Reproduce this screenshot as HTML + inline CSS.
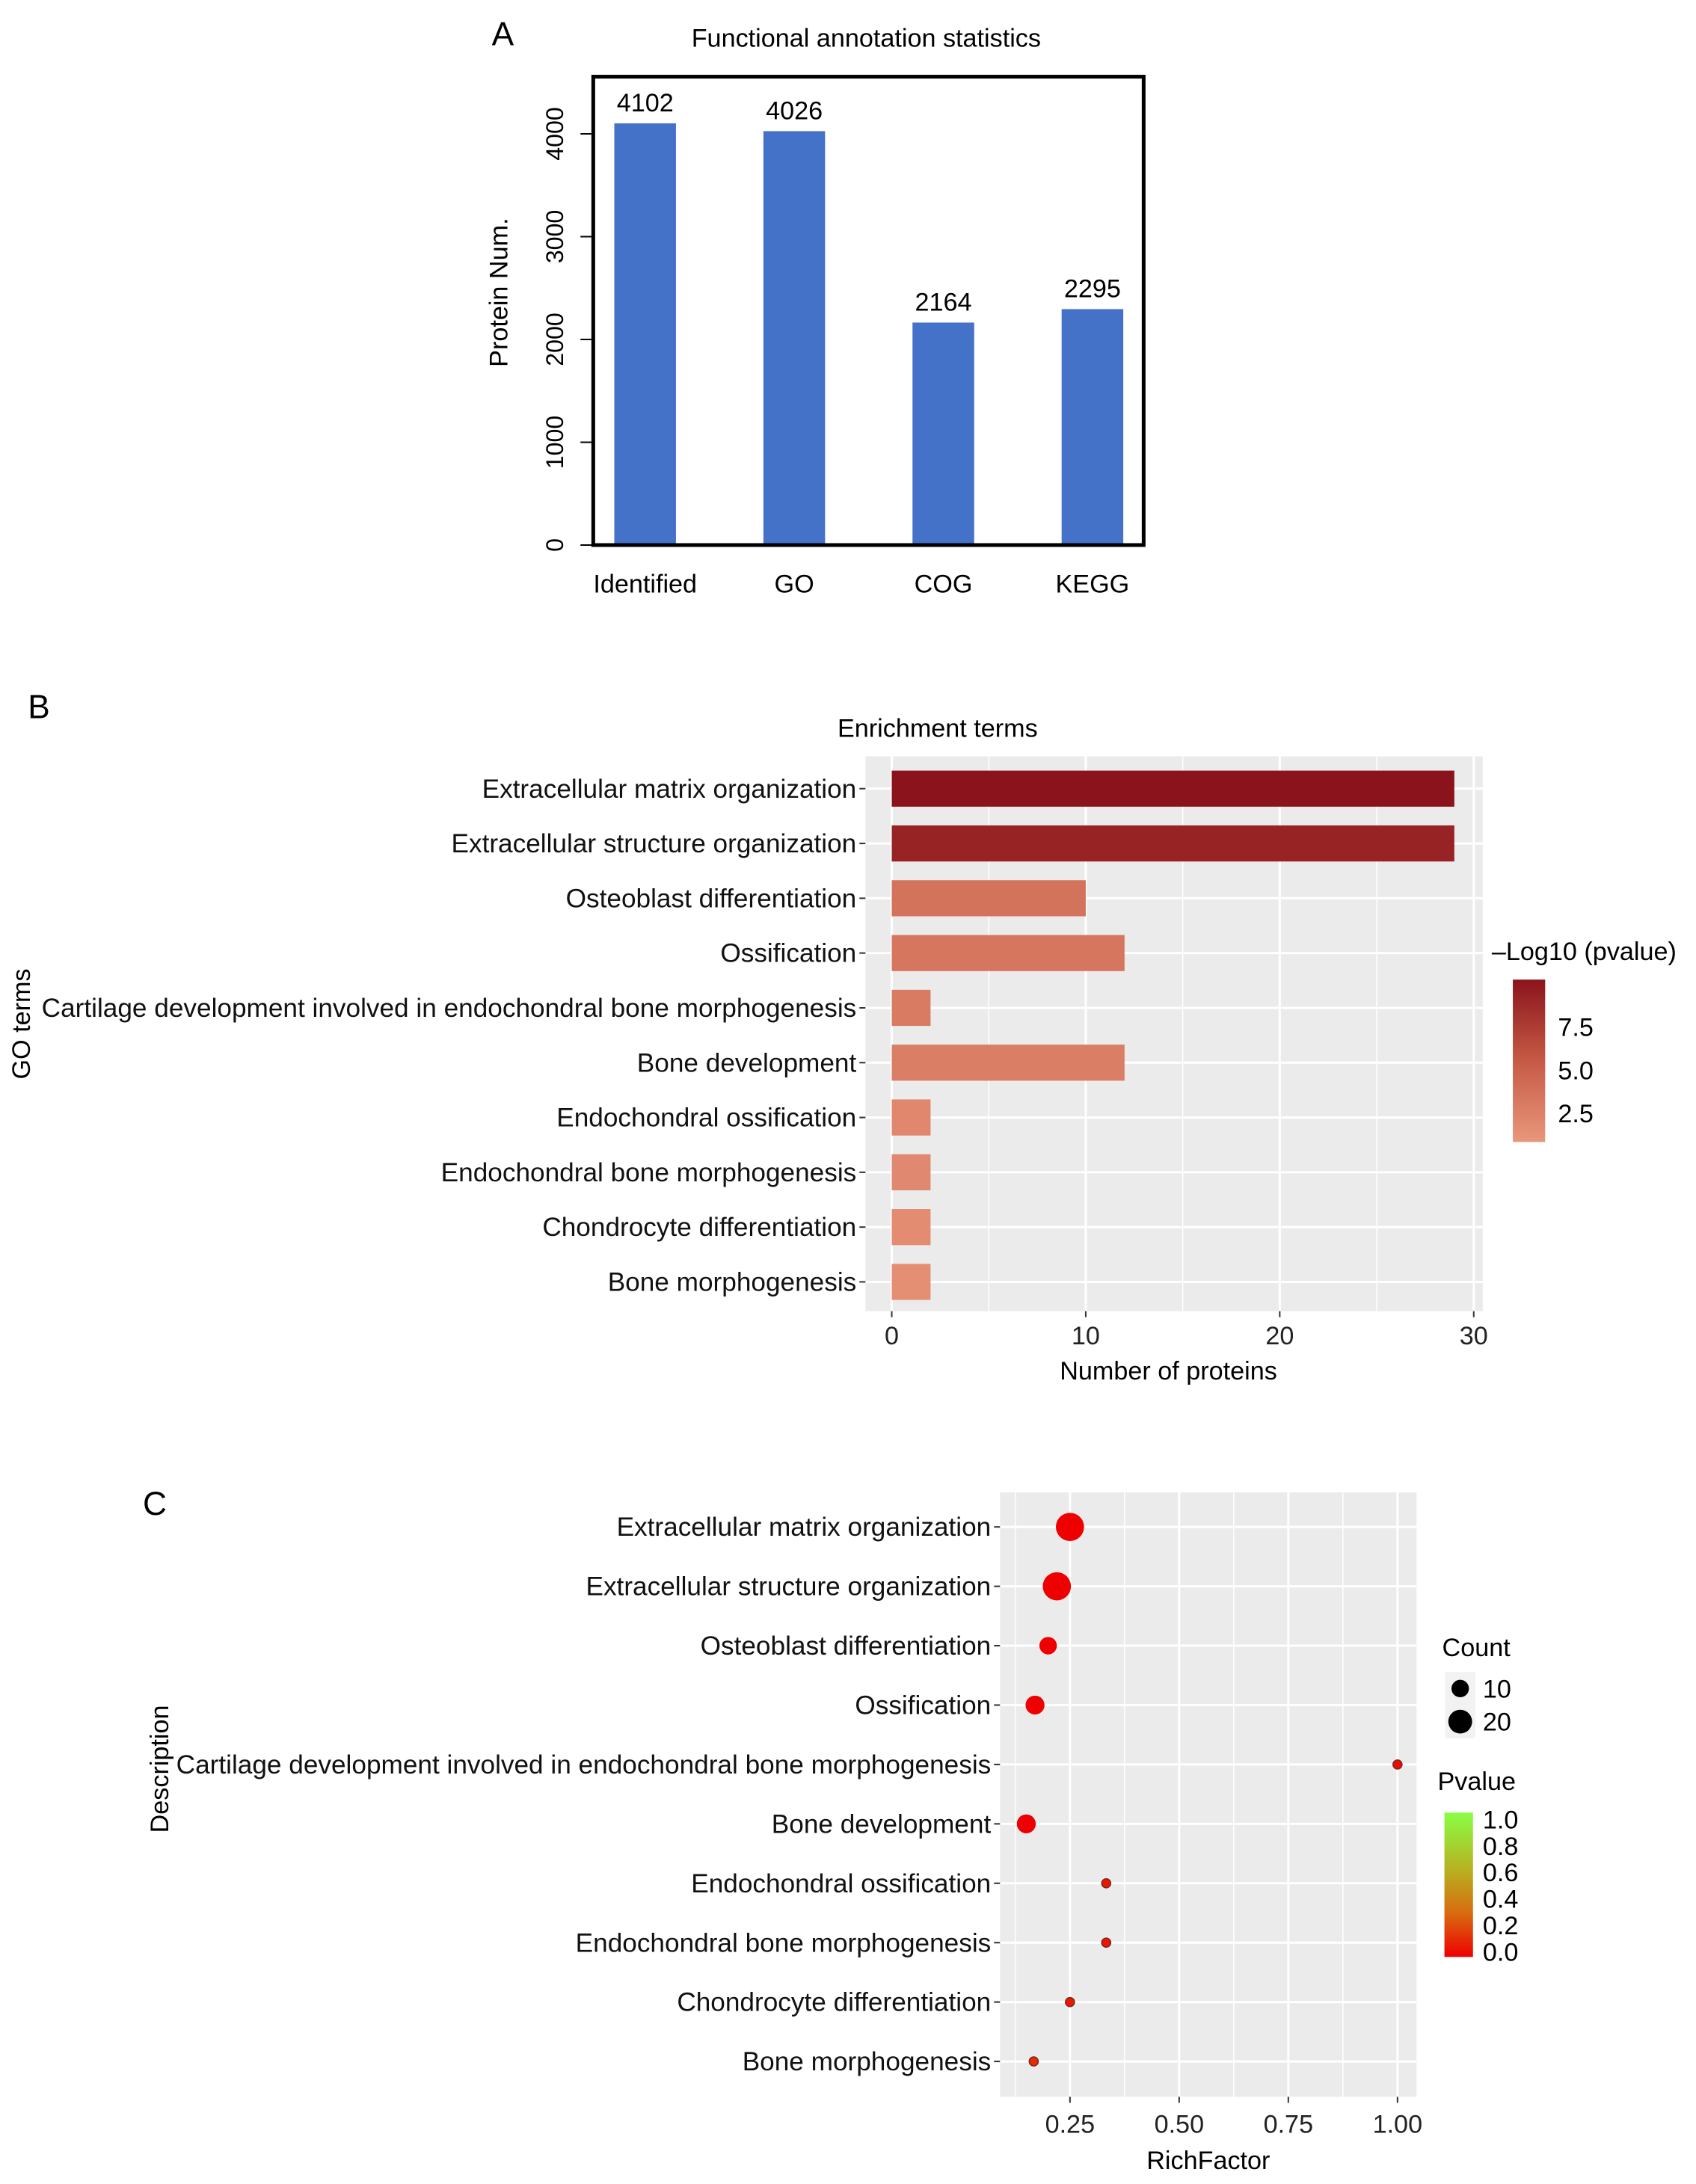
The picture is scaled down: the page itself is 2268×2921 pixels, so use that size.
<!DOCTYPE html>
<html><head><meta charset="utf-8"><style>
html,body{margin:0;padding:0;background:#fff}
svg{display:block;font-family:"Liberation Sans",Arial,sans-serif}
</style></head><body>
<svg id="fig" width="2268" height="2921" viewBox="0 0 2268 2921" xmlns="http://www.w3.org/2000/svg">
<defs>
<linearGradient id="gb" x1="0" y1="1" x2="0" y2="0"><stop offset="0" stop-color="#e9977c"/><stop offset="0.5" stop-color="#c65a45"/><stop offset="1" stop-color="#8b141c"/></linearGradient>
<linearGradient id="gc" x1="0" y1="1" x2="0" y2="0"><stop offset="0" stop-color="#ee0000"/><stop offset="0.3" stop-color="#d86a10"/><stop offset="0.6" stop-color="#b8b020"/><stop offset="1" stop-color="#88ff44"/></linearGradient>
</defs>
<g id="root" transform="scale(1.0055)">
<text x="654" y="60" font-size="44">A</text>
<text x="1152" y="62" font-size="34" text-anchor="middle">Functional annotation statistics</text>
<text transform="translate(675,389) rotate(-90)" font-size="34" text-anchor="middle">Protein Num.</text>
<text x="37" y="955" font-size="44">B</text>
<text x="1247" y="980" font-size="34" text-anchor="middle">Enrichment terms</text>
<text transform="translate(40,1362) rotate(-90)" font-size="34" text-anchor="middle">GO terms</text>
<text x="1554" y="1835" font-size="34" text-anchor="middle">Number of proteins</text>
<text x="1984" y="1277" font-size="34">–Log10 (pvalue)</text>
<text x="190" y="2015" font-size="44">C</text>
<text transform="translate(224,2353) rotate(-90)" font-size="34" text-anchor="middle">Description</text>
<text x="1607" y="2885" font-size="34" text-anchor="middle">RichFactor</text>
<text x="1918" y="2203" font-size="34">Count</text>
<text x="1912" y="2381" font-size="34">Pvalue</text>
</g>
</svg>
<script>
// Panel A data
const aCats = ["Identified","GO","COG","KEGG"];
const aVals = [4102,4026,2164,2295];
const aTicks = [0,1000,2000,3000,4000];
// Panel B data
const terms = ["Extracellular matrix organization","Extracellular structure organization","Osteoblast differentiation","Ossification","Cartilage development involved in endochondral bone morphogenesis","Bone development","Endochondral ossification","Endochondral bone morphogenesis","Chondrocyte differentiation","Bone morphogenesis"];
const bCounts = [29,29,10,12,2,12,2,2,2,2];
const bLogP = [10.2,9.2,3.6,3.4,3.0,2.8,2.1,1.9,1.7,1.5];
const bTicks = [0,10,20,30];
const bLegendTicks = [2.5,5.0,7.5];
// Panel C data
const cRich = [0.25,0.22,0.2,0.17,1.0,0.15,0.333,0.333,0.25,0.167];
const cCounts = [29,29,10,12,2,12,2,2,2,2];
const cP = [0.0,0.0,0.0,0.0,0.03,0.0,0.06,0.06,0.07,0.12];
const cTicks = [0.25,0.5,0.75,1.0];
const cTickLabels = ["0.25","0.50","0.75","1.00"];
const pTicks = [0.0,0.2,0.4,0.6,0.8,1.0];
const countLegend = [10,20];

const svg = document.getElementById('root');
const NS = 'http://www.w3.org/2000/svg';
function mk(tag, at, parent){const e=document.createElementNS(NS,tag);for(const k in at)e.setAttribute(k,at[k]);(parent||svg).appendChild(e);return e;}
function txt(s,at){const e=mk('text',at);e.textContent=s;return e;}

// ---- Panel A ----
const aY = v => 725 - v*0.13675;
const aX = i => 858 + i*198.3;
aTicks.forEach(t=>{
  const l=mk('line',{x1:772,x2:789,y1:aY(t),y2:aY(t),stroke:'#000','stroke-width':2});
  
  const e=txt(String(t),{transform:`translate(749,${aY(t)}) rotate(-90)`,'font-size':32,'text-anchor':'middle'});
  
});
aVals.forEach((v,i)=>{
  const r=mk('rect',{x:aX(i)-41,y:aY(v),width:82,height:aY(0)-aY(v),fill:'#4472c9'});
  
  const t=txt(String(v),{x:aX(i),y:aY(v)-16,'font-size':34,'text-anchor':'middle'});
  
  const c=txt(aCats[i],{x:aX(i),y:788,'font-size':34,'text-anchor':'middle'});
  
});
const abox=mk('rect',{x:789,y:102,width:732,height:623,fill:'none',stroke:'#000','stroke-width':5});


// ---- Panel B ----
const bX = v => 1186 + v*25.8;
const bRow = i => 1049 + i*72.9;
const bp=mk('rect',{x:1151,y:1006,width:821,height:738,fill:'#ebebeb'});

[5,15,25].forEach(t=>{const l=mk('line',{x1:bX(t),x2:bX(t),y1:1006,y2:1744,stroke:'#fff','stroke-width':1.5});
  });
bTicks.forEach(t=>{const l=mk('line',{x1:bX(t),x2:bX(t),y1:1006,y2:1744,stroke:'#fff','stroke-width':3});
  
  const k=mk('line',{x1:bX(t),x2:bX(t),y1:1744,y2:1752,stroke:'#333','stroke-width':2});
  
  const e=txt(String(t),{x:bX(t),y:1788,'font-size':34,'text-anchor':'middle','fill':'#222'});
  });
function bColor(v){const lo=0.85,hi=10.2;let f=(v-lo)/(hi-lo);f=Math.max(0,Math.min(1,f));
  const a=[233,151,124],m=[198,90,69],b=[139,20,28];let c;
  if(f<0.5){const g=f/0.5;c=a.map((x,j)=>x+(m[j]-x)*g);}else{const g=(f-0.5)/0.5;c=m.map((x,j)=>x+(b[j]-x)*g);}
  return `rgb(${c.map(Math.round).join(',')})`;}
terms.forEach((t,i)=>{
  const y=bRow(i);
  const g=mk('line',{x1:1151,x2:1972,y1:y,y2:y,stroke:'#fff','stroke-width':3});
  
  const r=mk('rect',{x:bX(0),y:y-24,width:bX(bCounts[i])-bX(0),height:48,fill:bColor(bLogP[i])});
  
  const k=mk('line',{x1:1143,x2:1151,y1:y,y2:y,stroke:'#333','stroke-width':2});
  
  const e=txt(t,{x:1139,y:y+12,'font-size':35,'text-anchor':'end','fill':'#111'});
  
});
const bl=mk('rect',{x:2012,y:1303,width:43,height:216,fill:'url(#gb)'});

const bLY = v => 1481 - (v-2.5)*23;
bLegendTicks.forEach(v=>{
  const e=txt(v.toFixed(1),{x:2072,y:bLY(v)+12,'font-size':34});
  
});

// ---- Panel C ----
const cX = v => 1423 + (v-0.25)*580.8;
const cRow = i => 2031 + i*79.0;
const cpb=mk('rect',{x:1330,y:1985,width:554,height:804,fill:'#ebebeb'});

[0.125,0.375,0.625,0.875].forEach(t=>{const l=mk('line',{x1:cX(t),x2:cX(t),y1:1985,y2:2789,stroke:'#fff','stroke-width':1.5});
  });
cTicks.forEach((t,j)=>{const l=mk('line',{x1:cX(t),x2:cX(t),y1:1985,y2:2789,stroke:'#fff','stroke-width':3});
  
  const k=mk('line',{x1:cX(t),x2:cX(t),y1:2789,y2:2797,stroke:'#333','stroke-width':2});
  
  const e=txt(cTickLabels[j],{x:cX(t),y:2837,'font-size':34,'text-anchor':'middle','fill':'#222'});
  });
function cColor(p){const f=Math.max(0,Math.min(1,p));
  const st=[[0,[238,0,0]],[0.3,[216,106,16]],[0.6,[184,176,32]],[1,[136,255,68]]];
  for(let j=1;j<st.length;j++){if(f<=st[j][0]){const g=(f-st[j-1][0])/(st[j][0]-st[j-1][0]);
    return `rgb(${st[j-1][1].map((x,k)=>Math.round(x+(st[j][1][k]-x)*g)).join(',')})`;}}
  return 'rgb(136,255,68)';}
const cR = n => 3.2*Math.sqrt(n)+1.5;
terms.forEach((t,i)=>{
  const y=cRow(i);
  const g=mk('line',{x1:1330,x2:1884,y1:y,y2:y,stroke:'#fff','stroke-width':3});
  
  const k=mk('line',{x1:1322,x2:1330,y1:y,y2:y,stroke:'#333','stroke-width':2});
  
  const e=txt(t,{x:1318,y:y+12,'font-size':35,'text-anchor':'end','fill':'#111'});
  
  const c=mk('circle',{cx:cX(cRich[i]),cy:y,r:cR(cCounts[i]),fill:cColor(cP[i]),stroke:cCounts[i]<5?'#7a2a1a':'none','stroke-width':1.5});
  
});
countLegend.forEach((n,j)=>{
  const y=2246+j*44;
  const bg=mk('rect',{x:1922,y:y-22,width:40,height:44,fill:'#f2f2f2'});
  
  const c=mk('circle',{cx:1942,cy:y,r:cR(n),fill:'#000'});
  
  const e=txt(String(n),{x:1972,y:y+12,'font-size':34});
  
});
const cl=mk('rect',{x:1921,y:2411,width:38,height:192,fill:'url(#gc)'});

pTicks.forEach(v=>{
  const y=2596 - v*176;
  const e=txt(v.toFixed(1),{x:1972,y:y+12,'font-size':34});
  
});
</script>
</body></html>
